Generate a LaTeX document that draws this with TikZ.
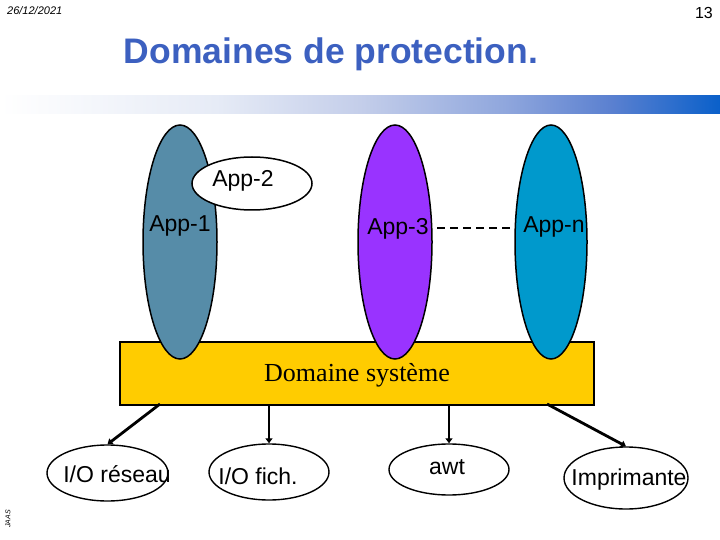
\documentclass[tikz,border=0pt]{standalone}
\usepackage{fontspec}
\setmainfont{Liberation Sans}
\newfontfamily\serifface{Liberation Serif}
\usetikzlibrary{shapes.geometric,arrows.meta}
\definecolor{appone}{RGB}{86,140,168}
\definecolor{appthree}{RGB}{153,51,255}
\definecolor{appn}{RGB}{0,153,204}
\definecolor{sysyellow}{RGB}{255,204,0}
\definecolor{titleblue}{RGB}{60,96,192}
\definecolor{barA}{RGB}{230,235,246}
\definecolor{barB}{RGB}{196,206,234}
\definecolor{barC}{RGB}{144,167,221}
\definecolor{barD}{RGB}{90,128,208}
\definecolor{barE}{RGB}{10,96,202}
\pgfdeclarehorizontalshading{titlebar}{100bp}{color(0bp)=(white); color(25bp)=(white); color(40bp)=(barA); color(50bp)=(barB); color(60bp)=(barC); color(67.5bp)=(barD); color(75bp)=(barE); color(100bp)=(barE)}
\tikzset{
  appell/.style={ellipse, draw=black, line width=1.5pt, inner sep=0pt, minimum width=74pt, minimum height=234pt},
  ioell/.style={ellipse, draw=black, line width=1.4pt, fill=white, inner sep=0pt, minimum width=120pt, minimum height=56pt},
  lbl/.style={inner sep=0pt, font=\fontsize{23}{27}\selectfont},
  arr/.style={line width=2.8pt, -{Triangle[length=5pt,width=7pt]}},
}
\begin{document}
\begin{tikzpicture}[x=1pt,y=-1pt]
\useasboundingbox (0,0) rectangle (720,540);
% header
\node[anchor=west, inner sep=0pt, font=\fontsize{11}{12}\selectfont\itshape] (date) at (7,11) {26/12/2021};
\node[anchor=east, inner sep=0pt, font=\fontsize{16}{18}\selectfont] (page) at (713,13) {13};
\node[anchor=base, inner sep=0pt, text=titleblue, font=\fontsize{35.5}{40}\selectfont\bfseries] (title) at (331,64) {Domaines de protection.};
\shade[shading=titlebar] (0,96) rectangle (720,114);
\node[rotate=90, anchor=center, inner sep=0pt, font=\fontsize{7}{8}\selectfont\itshape] (jaas) at (8,519) {JAAS};
% system domain
\node[rectangle, draw=black, line width=1.4pt, fill=sysyellow, minimum width=474pt, minimum height=63pt, inner sep=0pt] (sys) at (357,373.5) {};
\node[inner sep=0pt, font=\serifface\fontsize{26}{30}\selectfont] (syst) at (357,375) {Domaine système};
% applications
\node[appell, fill=appone] (app1) at (180,242) {};
\node[appell, fill=appthree] (app3) at (395,242) {};
\node[appell, fill=appn, minimum width=72pt] (appn) at (551,242) {};
\node[ellipse, draw=black, line width=1.5pt, fill=white, inner sep=0pt, minimum width=120pt, minimum height=53pt] (app2) at (252,183.5) {};
\node[lbl] (t1) at (180,226) {App-1};
\node[lbl] (t2) at (243,181) {App-2};
\node[lbl] (t3) at (398,229) {App-3};
\node[lbl] (tn) at (554,227) {App-n};
\coordinate (d1) at (437,228);
\coordinate (d2) at (514,228);
\draw[line width=2pt, dash pattern=on 8pt off 5pt] (d1) -- (d2);
% I/O domains
\node[ioell, minimum width=121pt] (res) at (107.5,473) {};
\node[ioell] (fich) at (269,472) {};
\node[ioell, minimum height=51pt] (awt) at (449,469.5) {};
\node[ioell, minimum width=124pt, minimum height=62pt] (impr) at (626,478) {};
\node[lbl] (tres) at (117,474) {I/O réseau};
\node[lbl] (tfich) at (258,476) {I/O fich.};
\node[lbl] (tawt) at (447,467) {awt};
\node[lbl] (timpr) at (629,480) {Imprimante};
% arrows
\coordinate (s1) at (160,404);
\coordinate (s4) at (547,404);
\draw[arr] (s1) -- (res.north);
\draw[arr] (sys.south -| fich.north) -- (fich.north);
\draw[arr] (sys.south -| awt.north) -- (awt.north);
\draw[arr] (s4) -- (impr.north);
\end{tikzpicture}
\end{document}
